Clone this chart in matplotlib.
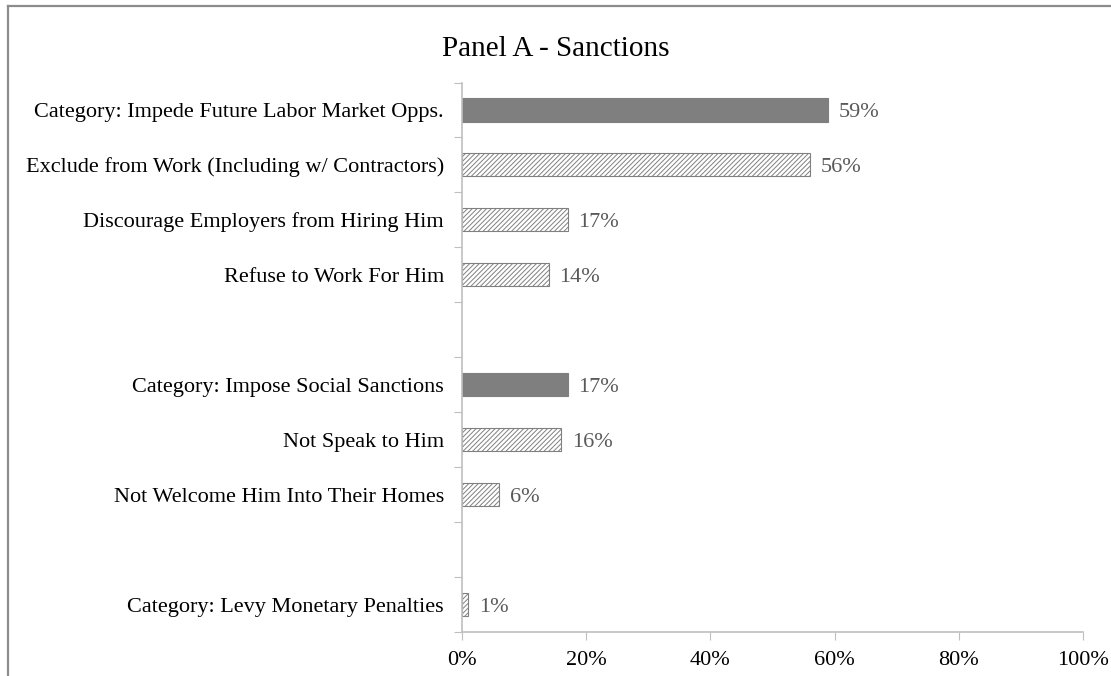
import matplotlib.pyplot as plt
from matplotlib.lines import Line2D
import numpy as np

plt.rcParams['font.family'] = ['Liberation Serif', 'DejaVu Serif']
plt.rcParams['hatch.linewidth'] = 0.7

# chart data (top to bottom, None = empty gap row)
labels = ['Category: Impede Future Labor Market Opps.',
          'Exclude from Work (Including w/ Contractors)',
          'Discourage Employers from Hiring Him',
          'Refuse to Work For Him',
          '',
          'Category: Impose Social Sanctions',
          'Not Speak to Him',
          'Not Welcome Him Into Their Homes',
          '',
          'Category: Levy Monetary Penalties']
values = [59, 56, 17, 14, None, 17, 16, 6, None, 1]
is_category = [True, False, False, False, False, True, False, False, False, False]
xticks = [0, 20, 40, 60, 80, 100]

fig = plt.figure(figsize=(11.11, 6.76), dpi=100)
ax = fig.add_axes([0.4158, 0.0651, 0.559, 0.8128])

for i, (v, cat) in enumerate(zip(values, is_category)):
    if v is None:
        continue
    if cat:
        ax.barh(i, v, height=0.42, color='#7f7f7f', edgecolor='#7f7f7f', linewidth=0.8)
    else:
        ax.barh(i, v, height=0.42, color='white', edgecolor='#808080',
                hatch='///////', linewidth=0.8)
    ax.text(v + 1.7, i, f'{v}%', va='center_baseline', ha='left', fontsize=16, color='#595959')

n = len(labels)
ax.set_ylim(n - 0.5, -0.5)
ax.set_xlim(0, 100)
ax.set_yticks(np.arange(n + 1) - 0.5)
ax.set_yticklabels([])
ax.set_yticks(np.arange(n), minor=True)
ax.set_yticklabels(labels, minor=True, fontsize=16)
ax.tick_params(axis='y', which='major', length=6, color='#bfbfbf')
ax.tick_params(axis='y', which='minor', length=0, pad=13)
ax.set_xticks(xticks)
ax.set_xticklabels([f'{t}%' for t in xticks], fontsize=16)
ax.tick_params(axis='x', length=6, color='#bfbfbf', pad=8)

for s in ['top', 'right']:
    ax.spines[s].set_visible(False)
for s in ['left', 'bottom']:
    ax.spines[s].set_color('#bfbfbf')
    ax.spines[s].set_linewidth(1.2)

fig.text(0.5, 0.928, 'Panel A - Sanctions', ha='center', va='center', fontsize=21)

# outer frame (top and left edges visible)
fig.add_artist(Line2D([8 / 1111, 1], [1 - 6 / 676, 1 - 6 / 676], color='#8c8c8c', lw=1.6,
                      transform=fig.transFigure))
fig.add_artist(Line2D([8 / 1111, 8 / 1111], [0, 1 - 6 / 676], color='#8c8c8c', lw=1.6,
                      transform=fig.transFigure))

fig.savefig('out.png', dpi=100)
